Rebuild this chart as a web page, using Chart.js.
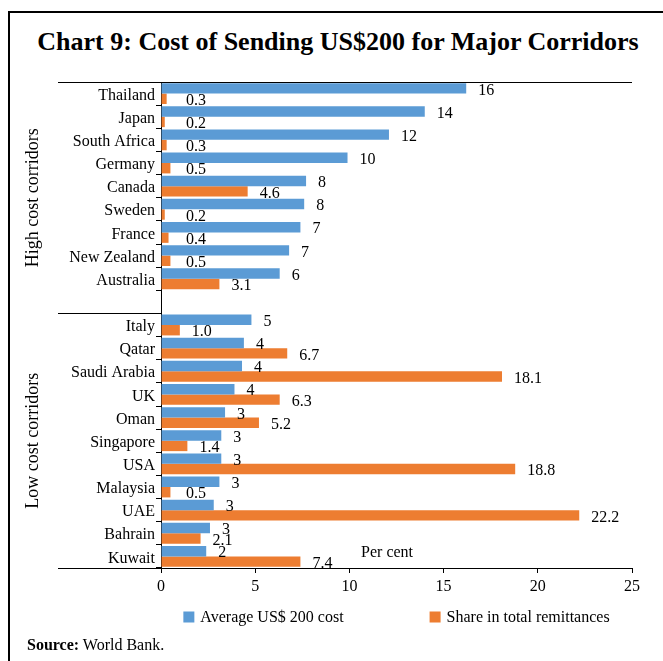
<!DOCTYPE html>
<html>
<head>
<meta charset="utf-8">
<script src="https://cdn.jsdelivr.net/npm/chart.js@4.4.1/dist/chart.umd.min.js"></script>
<style>
  html, body { margin: 0; padding: 0; background: #fff; }
  body { width: 663px; height: 661px; position: relative; overflow: hidden; font-family: "Liberation Serif", serif; }
  #frame { position: absolute; left: 8px; top: 11px; width: 700px; height: 700px;
           border-left: 2px solid #000; border-top: 2px solid #000; }
  #title { position: absolute; left: 10px; width: 656px; top: 27px; text-align: center;
           font-weight: bold; font-size: 26px; color: #000; white-space: nowrap; }
  #source { position: absolute; left: 27px; top: 636px; font-size: 16px; color: #000; }
  canvas { position: absolute; left: 0; top: 0; }
</style>
</head>
<body>
<div id="frame"></div>
<div id="title">Chart 9: Cost of Sending US$200 for Major Corridors</div>
<canvas id="chart" width="663" height="661"></canvas>
<div id="source"><b>Source:</b> World Bank.</div>

<script>
// corridors, top to bottom; the blank entry separates the two groups
const corridors = ["Thailand","Japan","South Africa","Germany","Canada","Sweden","France","New Zealand","Australia","",
                   "Italy","Qatar","Saudi Arabia","UK","Oman","Singapore","USA","Malaysia","UAE","Bahrain","Kuwait"];
const avgCost = [16.2, 14.0, 12.1, 9.9, 7.7, 7.6, 7.4, 6.8, 6.3, null,
                 4.8, 4.4, 4.3, 3.9, 3.4, 3.2, 3.2, 3.1, 2.8, 2.6, 2.4];
const remitShare = [0.3, 0.2, 0.3, 0.5, 4.6, 0.2, 0.4, 0.5, 3.1, null,
                    1.0, 6.7, 18.1, 6.3, 5.2, 1.4, 18.8, 0.5, 22.2, 2.1, 7.4];
const seriesNames = ["Average US$ 200 cost", "Share in total remittances"];
const seriesDigits = [0, 1];
const groupNames = ["High cost corridors", "Low cost corridors"];
const groupFirst = [0, 10];   // first corridor index of each group
const xMin = 0, xMax = 25, xStep = 5;
const axisUnit = "Per cent";

const FONT = "Liberation Serif";
const BLUE = "#5B9BD5", ORANGE = "#ED7D31";

// divider lines, group names, bar values, unit text and legend
const decorations = {
  id: "decorations",
  afterDraw(chart) {
    const ctx = chart.ctx, area = chart.chartArea;
    const y = chart.scales.y, x = chart.scales.x;
    const half = (y.getPixelForValue(1) - y.getPixelForValue(0)) / 2;
    const lineLeft = 58;
    const divider = y.getPixelForValue(groupFirst[1]) - half;

    ctx.save();
    ctx.strokeStyle = "#000";
    ctx.lineWidth = 1;
    ctx.beginPath();
    ctx.moveTo(lineLeft, area.top + 0.5); ctx.lineTo(area.right, area.top + 0.5);
    ctx.moveTo(lineLeft, Math.round(divider) + 0.5); ctx.lineTo(area.left, Math.round(divider) + 0.5);
    ctx.moveTo(lineLeft, area.bottom + 0.5); ctx.lineTo(area.left, area.bottom + 0.5);
    ctx.stroke();

    // group names, rotated
    ctx.fillStyle = "#000";
    ctx.font = "18px '" + FONT + "'";
    ctx.textAlign = "center";
    ctx.textBaseline = "middle";
    const spans = [[area.top, divider], [divider, area.bottom]];
    groupNames.forEach((g, i) => {
      ctx.save();
      ctx.translate(33, (spans[i][0] + spans[i][1]) / 2);
      ctx.rotate(-Math.PI / 2);
      ctx.fillText(g, 0, 0);
      ctx.restore();
    });

    // values at bar ends
    ctx.font = "16px '" + FONT + "'";
    ctx.textAlign = "left";
    chart.data.datasets.forEach((ds, i) => {
      chart.getDatasetMeta(i).data.forEach((bar, j) => {
        const v = ds.data[j];
        if (v == null) return;
        const tx = Math.max(bar.x + 12, area.left + 25);
        ctx.fillText(v.toFixed(seriesDigits[i]), tx, bar.y + 2);
      });
    });

    // unit
    ctx.textAlign = "center";
    ctx.fillText(axisUnit, x.getPixelForValue(12), area.bottom - 15);

    // legend
    const box = 11, gap = 6, spacing = 86;
    const items = chart.data.datasets.map(ds => ({
      text: ds.label, color: ds.backgroundColor, w: box + gap + ctx.measureText(ds.label).width
    }));
    const total = items.reduce((a, b) => a + b.w, 0) + spacing * (items.length - 1);
    let lx = (area.left + area.right) / 2 - total / 2;
    const ly = area.bottom + 49;
    ctx.textAlign = "left";
    items.forEach(it => {
      ctx.fillStyle = it.color;
      ctx.fillRect(lx, ly - box / 2, box, box);
      ctx.fillStyle = "#000";
      ctx.fillText(it.text, lx + box + gap, ly + 1);
      lx += it.w + spacing;
    });
    ctx.restore();
  }
};

new Chart(document.getElementById("chart"), {
  type: "bar",
  data: {
    labels: corridors,
    datasets: [
      { label: seriesNames[0], data: avgCost, backgroundColor: BLUE, borderWidth: 0 },
      { label: seriesNames[1], data: remitShare, backgroundColor: ORANGE, borderWidth: 0 }
    ]
  },
  options: {
    indexAxis: "y",
    responsive: false,
    animation: false,
    categoryPercentage: 0.9,
    barPercentage: 1.0,
    layout: { padding: { top: 82, right: 31, bottom: 63, left: 0 } },
    plugins: { legend: { display: false }, tooltip: { enabled: false } },
    scales: {
      x: {
        min: xMin, max: xMax,
        ticks: { stepSize: xStep, color: "#000", padding: 4, font: { family: FONT, size: 16 } },
        grid: { drawOnChartArea: false, drawTicks: true, tickLength: 5, color: "#000" },
        border: { color: "#000", width: 1 },
        afterFit(s) { s.height = 30; }
      },
      y: {
        ticks: { color: "#000", padding: 1, labelOffset: 2, autoSkip: false, font: { family: FONT, size: 16 } },
        grid: { drawOnChartArea: false, drawTicks: true, tickLength: 5, offset: true, color: "#000" },
        border: { color: "#000", width: 1 },
        afterFit(s) { s.width = 161; }
      }
    }
  },
  plugins: [decorations]
});
</script>
</body>
</html>
